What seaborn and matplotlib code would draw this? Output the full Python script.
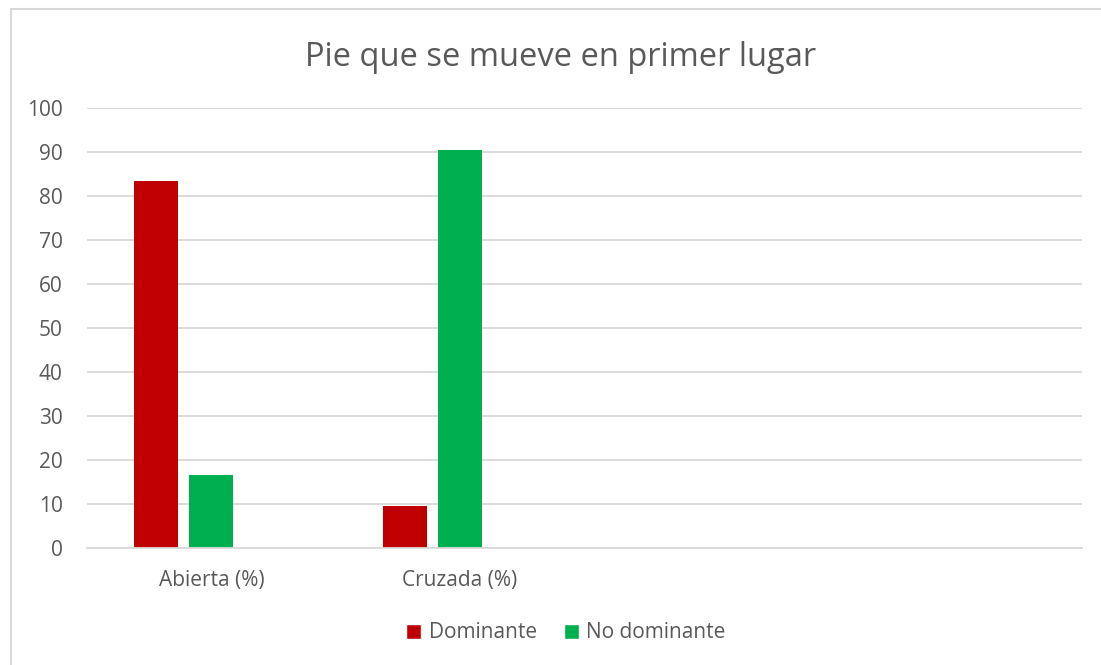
import matplotlib
matplotlib.use("Agg")
import matplotlib.pyplot as plt
from matplotlib.patches import Rectangle, Patch
import seaborn as sns
import pandas as pd
import numpy as np

categories = ["Abierta (%)", "Cruzada (%)", " ", "  "]
data_categories = ["Abierta (%)", "Cruzada (%)"]
series = ["Dominante", "No dominante", "_blank"]
dominante = [83.3, 9.5]
no_dominante = [16.7, 90.5]
title = "Pie que se mueve en primer lugar"
yticks = [0, 10, 20, 30, 40, 50, 60, 70, 80, 90, 100]

sns.set_theme(style="white")
plt.rcParams['font.family'] = ['Open Sans', 'DejaVu Sans']

rows = []
for c, v in zip(data_categories, dominante):
    rows.append({"cat": c, "serie": "Dominante", "val": v})
for c, v in zip(data_categories, no_dominante):
    rows.append({"cat": c, "serie": "No dominante", "val": v})
df = pd.DataFrame(rows)

palette = {"Dominante": "#C00000", "No dominante": "#00B050", "_blank": "#FFFFFF"}
txt = "#595959"

fig = plt.figure(figsize=(11.01, 6.65), dpi=100)
fig.patch.set_facecolor("white")
ax = fig.add_axes([87/1101, 1 - 548/665, (1082-87)/1101, (548-108)/665])

sns.barplot(data=df, x="cat", y="val", hue="serie", order=categories,
            hue_order=series, palette=palette, saturation=1, width=0.669, gap=0.21,
            linewidth=0, legend=False, ax=ax)

ax.set_ylim(0, 100)
ax.set_xlim(-0.5, len(categories) - 0.5)
ax.set_yticks(yticks)
ax.grid(axis="y", color="#D9D9D9", linewidth=1.3)
ax.grid(axis="x", visible=False)
ax.set_axisbelow(True)
for s in ["top", "right", "left"]:
    ax.spines[s].set_visible(False)
ax.spines["bottom"].set_color("#D9D9D9")
ax.spines["bottom"].set_linewidth(1.3)
ax.tick_params(axis="both", length=0, colors=txt, labelsize=15)
ax.tick_params(axis="y", pad=17.5)
ax.tick_params(axis="x", pad=16)
ax.set_xlabel("")
ax.set_ylabel("")

fig.text(561/1101, 1 - 57/665, title, ha="center", va="center",
         fontsize=23.5, color=txt)

handles = [Patch(facecolor=palette["Dominante"]), Patch(facecolor=palette["No dominante"])]
fig.legend(handles, ["Dominante", "No dominante"], loc="center",
           bbox_to_anchor=(566/1101, 1 - 633/665), ncol=2, frameon=False,
           fontsize=15, handlelength=0.72, handleheight=0.72, handletextpad=0.35,
           columnspacing=1.3, labelcolor=txt)

fig.add_artist(Rectangle((10.5/1101, -0.1), 1.2, 1 - 9.5/665 + 0.1,
                         transform=fig.transFigure, fill=False,
                         edgecolor="#D9D9D9", linewidth=1.5))

fig.savefig("out.png", dpi=100, facecolor="white")
